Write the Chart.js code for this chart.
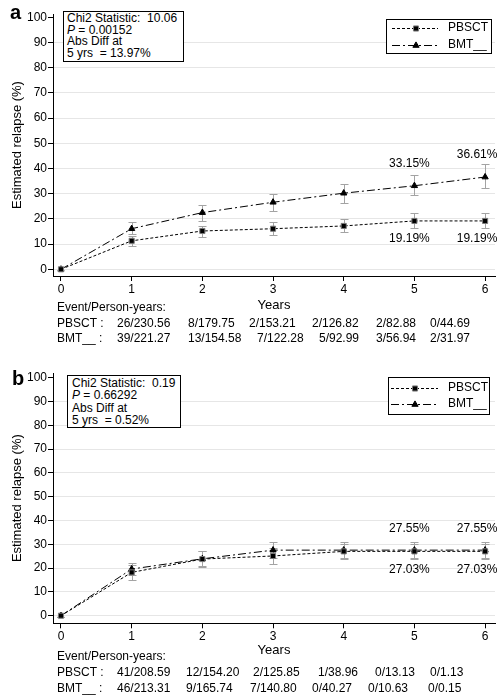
<!DOCTYPE html>
<html><head><meta charset="utf-8">
<script src="https://cdn.jsdelivr.net/npm/chart.js@4.4.1/dist/chart.umd.min.js"></script>
<style>
body{margin:0;background:#fff;}
#wrap{position:relative;width:503px;height:700px;overflow:hidden;font-family:'Liberation Sans',Arial,sans-serif;color:#000;background:#fff;}
canvas{position:absolute;left:0;}
.t{position:absolute;font-size:12px;line-height:12px;white-space:nowrap;}
.box{position:absolute;border:1px solid #000;background:#fff;font-size:12px;box-sizing:border-box;white-space:pre;}
.letter{position:absolute;font-weight:bold;font-size:20px;line-height:20px;}
</style></head><body><div id="wrap">
<canvas id="ca" width="503" height="350" style="top:0"></canvas>
<canvas id="cb" width="503" height="350" style="top:350px"></canvas>
<div class="letter" style="left:10px;top:2px">a</div>
<div class="letter" style="left:12px;top:368px">b</div>
<div class="box" style="left:63px;top:11px;width:121px;height:51px;padding:1px 0 0 3px;line-height:11.7px">Chi2 Statistic:  10.06
<i>P</i> = 0.00152
Abs Diff at
5 yrs  = 13.97%</div>
<div class="box" style="left:67px;top:375px;width:114px;height:53px;padding:1px 0 0 4px;line-height:12.3px">Chi2 Statistic:  0.19
<i>P</i> = 0.66292
Abs Diff at
5 yrs  = 0.52%</div>
</div>
<script>
// ---- data ----
const years = [0, 1, 2, 3, 4, 5, 6];
const yTicks = [0, 10, 20, 30, 40, 50, 60, 70, 80, 90, 100];
const seriesNames = ['PBSCT', 'BMT__'];

// panel a
const aPbsct   = [0, 11.3, 15.2, 16.1, 17.2, 19.19, 19.19];
const aPbsctLo = [0, 9.2, 12.7, 13.5, 14.7, 16.3, 16.3];
const aPbsctHi = [0, 13.2, 17.3, 18.6, 19.8, 22.3, 22.3];
const aBmt     = [0, 16.1, 22.5, 26.6, 30.2, 33.15, 36.61];
const aBmtLo   = [0, 13.9, 19.3, 23.1, 26.3, 29.3, 32.3];
const aBmtHi   = [0, 18.6, 25.4, 29.9, 33.7, 37.4, 41.6];

// panel b
const bPbsct   = [0, 18.2, 23.8, 25.1, 27.03, 27.03, 27.03];
const bPbsctLo = [0, 15.2, 20.6, 21.9, 24.0, 24.0, 24.0];
const bPbsctHi = [0, 21.2, 27.0, 28.3, 30.1, 30.1, 30.1];
const bBmt     = [0, 19.6, 23.9, 27.55, 27.55, 27.55, 27.55];
const bBmtLo   = [0, 16.9, 20.8, 24.3, 24.3, 24.3, 24.3];
const bBmtHi   = [0, 22.3, 27.0, 30.8, 30.8, 30.8, 30.8];

// event / person-years table
const aPbsctEvents = ['26/230.56', '8/179.75', '2/153.21', '2/126.82', '2/82.88', '0/44.69'];
const aBmtEvents   = ['39/221.27', '13/154.58', '7/122.28', '5/92.99', '3/56.94', '2/31.97'];
const bPbsctEvents = ['41/208.59', '12/154.20', '2/125.85', '1/38.96', '0/13.13', '0/1.13'];
const bBmtEvents   = ['46/213.31', '9/165.74', '7/140.80', '0/40.27', '0/10.63', '0/0.15'];

// ---- table layout (positions only) ----
const wrap = document.getElementById('wrap');
function txt(s, left, top) {
  const d = document.createElement('div');
  d.className = 't'; d.textContent = s;
  d.style.left = left + 'px'; d.style.top = top + 'px';
  wrap.appendChild(d);
}
function table(top0, rowTops, pX, bX, pEv, bEv) {
  txt('Event/Person-years:', 57, top0);
  txt(seriesNames[0] + ' :', 57, rowTops[0]);
  txt(seriesNames[1] + ' :', 57, rowTops[1]);
  pEv.forEach((s, i) => txt(s, pX[i], rowTops[0]));
  bEv.forEach((s, i) => txt(s, bX[i], rowTops[1]));
}
table(300.5, [316.5, 331.5], [117,188,249,312,376,430], [117,188,257,319,376,430], aPbsctEvents, aBmtEvents);
table(649.5, [665.7, 681.5], [117,186,253,318,375,430], [117,186,250,312,368,428], bPbsctEvents, bBmtEvents);

// ---- plugins ----
const errorBars = {
  id: 'errorBars',
  beforeDatasetsDraw(chart) {
    const {ctx} = chart, xs = chart.scales.x, ys = chart.scales.y;
    ctx.save();
    ctx.strokeStyle = '#a3a3a3'; ctx.lineWidth = 1;
    chart.data.datasets.forEach(ds => {
      ds.data.forEach((p, i) => {
        const lo = ds.lo[i], hi = ds.hi[i];
        if (lo === hi) return;
        const x = Math.round(xs.getPixelForValue(p.x)) + 0.5;
        const y1 = Math.round(ys.getPixelForValue(lo)) + 0.5;
        const y2 = Math.round(ys.getPixelForValue(hi)) + 0.5;
        ctx.beginPath();
        ctx.moveTo(x, y1); ctx.lineTo(x, y2);
        ctx.moveTo(x - 4, y1); ctx.lineTo(x + 4, y1);
        ctx.moveTo(x - 4, y2); ctx.lineTo(x + 4, y2);
        ctx.stroke();
      });
    });
    ctx.restore();
  }
};
const endLabels = {
  id: 'endLabels',
  afterDatasetsDraw(chart) {
    const {ctx} = chart, xs = chart.scales.x, ys = chart.scales.y;
    ctx.save();
    ctx.font = "12px 'Liberation Sans', Arial, sans-serif";
    ctx.fillStyle = '#000'; ctx.textAlign = 'center'; ctx.textBaseline = 'middle';
    chart.data.datasets.forEach(ds => {
      ds.labelIdx.forEach((idx, k) => {
        const p = ds.data[idx];
        ctx.fillText(p.y.toFixed(2) + '%', xs.getPixelForValue(p.x) + ds.labelDx[k], ys.getPixelForValue(p.y) + ds.labelDy);
      });
    });
    ctx.restore();
  }
};
const boxLegend = {
  id: 'boxLegend',
  afterDraw(chart, args, o) {
    const {ctx} = chart, a = chart.chartArea;
    const L = a.right + o.dx, T = a.top + o.dy;
    ctx.save();
    ctx.fillStyle = '#fff'; ctx.fillRect(L, T, o.w, o.h);
    ctx.strokeStyle = '#000'; ctx.lineWidth = 1;
    ctx.strokeRect(Math.round(L) + 0.5, Math.round(T) + 0.5, o.w, o.h);
    chart.data.datasets.forEach((ds, i) => {
      const y = Math.round(T + o.rows[i]) + 0.5;
      ctx.setLineDash(ds.borderDash);
      ctx.strokeStyle = '#000';
      ctx.beginPath(); ctx.moveTo(L + o.x0, y); ctx.lineTo(L + o.x1, y); ctx.stroke();
      ctx.setLineDash([]);
      ctx.fillStyle = ds.pointBackgroundColor; ctx.strokeStyle = ds.pointBorderColor; ctx.lineWidth = 1;
      Chart.helpers.drawPoint(ctx, {pointStyle: ds.pointStyle, radius: ds.pointRadius, rotation: 0, borderWidth: 1}, L + o.mx, y);
      ctx.fillStyle = '#000';
      ctx.font = "12px 'Liberation Sans', Arial, sans-serif";
      ctx.textBaseline = 'middle'; ctx.textAlign = 'left';
      ctx.fillText(ds.label, L + o.tx, T + o.rows[i]);
    });
    ctx.restore();
  }
};

Chart.defaults.font.family = "'Liberation Sans', Arial, sans-serif";
Chart.defaults.font.size = 12;
Chart.defaults.color = '#000';

function makeChart(id, p, b, yMin, yMax, pad, xHeight, legendOpts, lblAbove, lblBelow) {
  const mk = (arr) => years.map((x, i) => ({x, y: arr[i]}));
  return new Chart(document.getElementById(id), {
    type: 'line',
    data: {
      datasets: [
        {label: seriesNames[0], data: mk(p.v), lo: p.lo, hi: p.hi,
         borderColor: '#000', borderWidth: 1, borderDash: [3, 2],
         pointStyle: 'rect', pointRadius: 3.6, pointBackgroundColor: '#000', pointBorderColor: '#7a7a7a', pointBorderWidth: 1,
         labelIdx: [5, 6], labelDx: [-5, -8], labelDy: lblBelow},
        {label: seriesNames[1], data: mk(b.v), lo: b.lo, hi: b.hi,
         borderColor: '#000', borderWidth: 1, borderDash: [8, 3, 2, 3],
         pointStyle: 'triangle', pointRadius: 3.6, pointBackgroundColor: '#000', pointBorderColor: '#000', pointBorderWidth: 1,
         labelIdx: [5, 6], labelDx: [-5, -8], labelDy: lblAbove}
      ]
    },
    options: {
      responsive: false, animation: false, devicePixelRatio: 1,
      layout: {padding: pad},
      plugins: {legend: {display: false}, tooltip: {enabled: false}, boxLegend: legendOpts},
      elements: {line: {tension: 0}},
      scales: {
        x: {type: 'linear', min: -0.113, max: 6.14,
            afterBuildTicks: s => { s.ticks = years.map(v => ({value: v})); },
            afterFit: s => { s.height = xHeight; },
            grid: {drawOnChartArea: false, tickLength: 5, tickColor: '#000'},
            border: {color: '#000', width: 1},
            ticks: {padding: 1, font: {size: 12}, color: '#000'},
            title: {display: true, text: 'Years', font: {size: 13}, padding: 0, color: '#000'}},
        y: {type: 'linear', min: yMin, max: yMax,
            afterBuildTicks: s => { s.ticks = yTicks.map(v => ({value: v})); },
            afterFit: s => { s.width = 53; },
            grid: {color: c => (c.tick && c.tick.value === 100) ? 'rgba(0,0,0,0)' : '#e6e6e6', tickLength: 5, tickColor: '#000'},
            border: {color: '#000', width: 1},
            ticks: {padding: 1, font: {size: 12}, color: '#000'},
            title: {display: true, text: 'Estimated relapse (%)', font: {size: 13}, padding: {top: 10, bottom: 0}, color: '#000'}}
      }
    },
    plugins: [errorBars, endLabels, boxLegend]
  });
}

makeChart('ca', {v: aPbsct, lo: aPbsctLo, hi: aPbsctHi}, {v: aBmt, lo: aBmtLo, hi: aBmtHi},
  -2.66, 101.3, {top: 14, right: 8, bottom: 36.7, left: 0}, 37.3,
  {dx: -109, dy: 5, w: 105, h: 34, rows: [9, 26], x0: 6, x1: 52, mx: 30, tx: 62}, -22.5, 18);
makeChart('cb', {v: bPbsct, lo: bPbsctLo, hi: bPbsctHi}, {v: bBmt, lo: bBmtLo, hi: bBmtHi},
  -3.2, 102, {top: 23, right: 8, bottom: 41.5, left: 0}, 35.2,
  {dx: -107, dy: 4, w: 101, h: 37, rows: [10.5, 27], x0: 3, x1: 50, mx: 27, tx: 60}, -21, 18);
</script>
</body></html>
